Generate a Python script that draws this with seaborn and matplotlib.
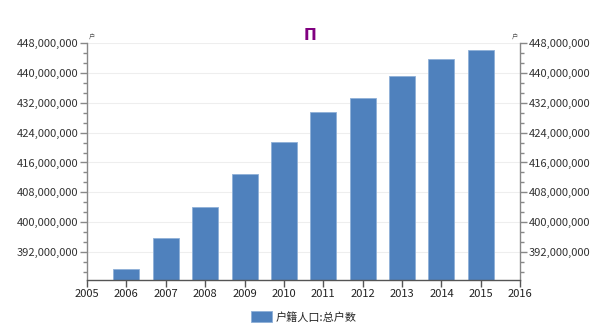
import matplotlib
matplotlib.use("Agg")
import matplotlib.pyplot as plt
from matplotlib.ticker import MultipleLocator, FuncFormatter
import seaborn as sns
import pandas as pd

years = [2006, 2007, 2008, 2009, 2010, 2011, 2012, 2013, 2014, 2015]
households = [387.4e6, 395.9e6, 404.0e6, 412.8e6, 421.6e6, 429.4e6, 433.3e6, 439.2e6, 443.7e6, 446.0e6]
series_name = "户籍人口:总户数"
title_text = "П"
unit_text = "户"

sns.set_theme(style="white")
plt.rcParams['font.family'] = ['Noto Sans CJK SC', 'DejaVu Sans']

df = pd.DataFrame({"year": years, "value": households})

fig = plt.figure(figsize=(6, 3.25), dpi=100)
ax = fig.add_axes([0.145, 0.1385, 0.722, 0.7295])

sns.barplot(data=df, x="year", y="value", native_scale=True, width=0.66,
            color="#4F81BD", saturation=1, edgecolor="#8FB0D8", linewidth=0.6,
            ax=ax, label=series_name)

ax.set_xlim(2005, 2016)
ax.set_ylim(384.55e6, 448e6)
ax.set_xticks(list(range(2005, 2017)))
ax.yaxis.set_major_locator(MultipleLocator(8e6))
ax.yaxis.set_minor_locator(MultipleLocator(8e6 / 3))
fmt = FuncFormatter(lambda v, p: f"{int(round(v)):,}")
ax.yaxis.set_major_formatter(fmt)
ax.set_xlabel("")
ax.set_ylabel("")

ax.grid(axis="y", color="#EEEEEE", linewidth=0.8)
ax.set_axisbelow(True)

ax.spines["top"].set_visible(False)
for s in ["left", "right"]:
    ax.spines[s].set_color("#888888")
    ax.spines[s].set_linewidth(1.0)
ax.spines["bottom"].set_color("#555555")
ax.spines["bottom"].set_linewidth(1.0)

ax.tick_params(axis="y", which="major", left=True, right=True, labelleft=True,
               labelright=True, length=5, width=1, color="#888888",
               labelsize=8, labelcolor="#333333", pad=1, direction="out")
ax.tick_params(axis="y", which="minor", left=True, right=True, length=3,
               width=1, color="#888888", direction="out")
ax.tick_params(axis="x", which="major", bottom=True, length=5, width=1,
               color="#555555", labelsize=8, labelcolor="#222222", pad=1.5)

ax.text(0.004, 1.005, unit_text, transform=ax.transAxes, fontsize=4.5,
        color="#555555", ha="left", va="bottom")
ax.text(0.996, 1.005, unit_text, transform=ax.transAxes, fontsize=4.5,
        color="#555555", ha="right", va="bottom")

fig.text(0.517, 0.89, title_text, color="#800080", fontsize=11,
         fontweight="bold", ha="center", va="center", family="DejaVu Sans")

leg = ax.legend(loc="center", bbox_to_anchor=(0.5, -0.155), frameon=False,
                fontsize=8, handlelength=1.9, handleheight=1.2,
                handletextpad=0.3)

fig.savefig("out.png", dpi=100)
